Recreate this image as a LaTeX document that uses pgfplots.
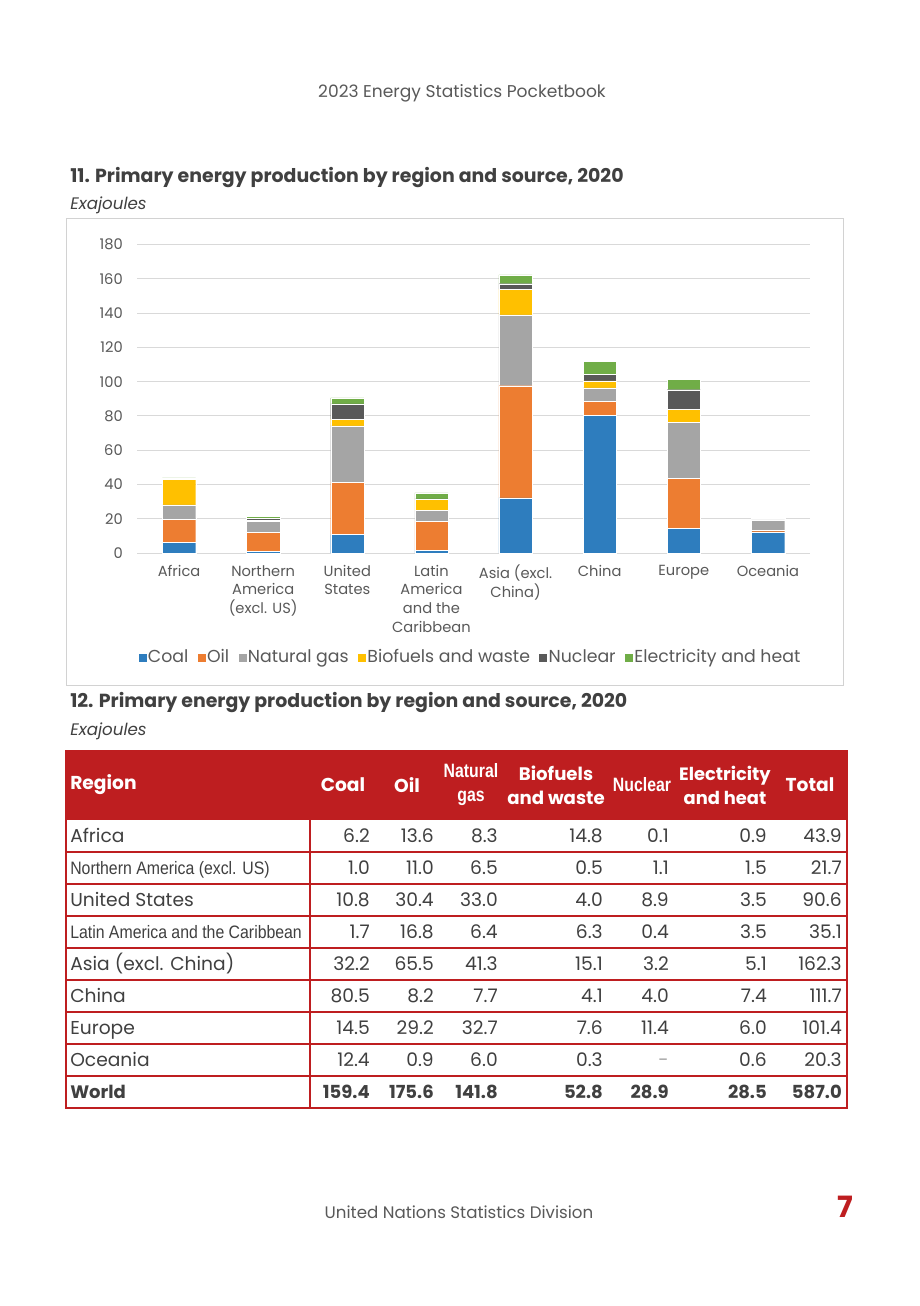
\documentclass[border=0pt]{standalone}
\usepackage{fontspec}
\setmainfont{Poppins}
\newfontfamily\narrow[FakeStretch=0.88]{Liberation Sans}
\newfontfamily\narrowhead[FakeStretch=0.82]{Liberation Sans}
\usepackage{pgfplots}
\usepackage{pgfplotstable}
\pgfplotsset{compat=1.18}

\definecolor{coal}{RGB}{46,125,190}
\definecolor{oil}{RGB}{237,125,49}
\definecolor{gas}{RGB}{165,165,165}
\definecolor{bio}{RGB}{255,192,0}
\definecolor{nuc}{RGB}{89,89,89}
\definecolor{elec}{RGB}{112,173,71}
\definecolor{unred}{RGB}{190,30,32}
\definecolor{txt}{RGB}{89,89,89}
\definecolor{dark}{RGB}{64,64,64}
\definecolor{gridc}{RGB}{217,217,217}
\definecolor{boxc}{RGB}{210,210,210}

% exajoules, 2020
\pgfplotstableread{
x coal oil gas bio nuc elec
0 6.2  13.6 8.3  14.8 0.1  0.9
1 1.0  11.0 6.5  0.5  1.1  1.5
2 10.8 30.4 33.0 4.0  8.9  3.5
3 1.7  16.8 6.4  6.3  0.4  3.5
4 32.2 65.5 41.3 15.1 3.2  5.1
5 80.5 8.2  7.7  4.1  4.0  7.4
6 14.5 29.2 32.7 7.6  11.4 6.0
7 12.4 0.9  6.0  0.3  0.0  0.6
}\prod

\begin{document}
\begin{tikzpicture}[x=0.75pt,y=-0.75pt]
\fill[white] (0,0) rectangle (920,1306);
\path[use as bounding box] (0,0) rectangle (920,1306);

% page header
\node[text=txt, font=\fontsize{12.8}{15}\selectfont] at (462,93) {2023 Energy Statistics Pocketbook};

% chart title
\node[anchor=base west, inner sep=0pt, text=dark, font=\fontsize{14.2}{17}\bfseries] at (70,182) {11. Primary energy production by region and source, 2020};
\node[anchor=base west, inner sep=0pt, text=dark, font=\fontsize{12.5}{15}\itshape] at (70,209) {Exajoules};
\draw[boxc, line width=0.75pt] (66,218) rectangle (843,685);

\begin{axis}[
  at={(102.75pt,-414.75pt)}, anchor=south west,
  scale only axis, width=504.75pt, height=231.2pt,
  ybar stacked, bar width=25pt,
  legend image code/.code={\fill[#1,draw=none] (0pt,-3.5pt) rectangle (6pt,2.5pt);},
  xmin=-0.5, xmax=7.5, ymin=0, ymax=180,
  xtick={0,...,7},
  xticklabels={Africa, {Northern\\America\\(excl. US)}, {United\\States}, {Latin\\America\\and the\\Caribbean}, {Asia (excl.\\China)}, China, Europe, Oceania},
  ytick={0,20,...,180},
  ymajorgrids, grid style={gridc, line width=0.75pt},
  axis line style={draw=none}, major tick length=0pt,
  tick label style={text=txt, inner sep=0pt},
  yticklabel style={anchor=east, xshift=-10.5pt, font=\fontsize{11}{13}\selectfont},
  xticklabel style={anchor=north, yshift=-9pt, align=center, font=\fontsize{11}{13.9}\selectfont},
  /pgf/number format/assume math mode=true,
  clip=false,
  legend columns=6, legend cell align=left,
  legend style={at={(0.495,-0.337)}, anchor=center, draw=none, fill=none,
    font=\fontsize{13}{15}\selectfont, text=txt,
    nodes={inner sep=1pt},
    /tikz/every even column/.append style={column sep=6pt}},
]
\addplot[fill=coal, draw=white, line width=0.15pt] table[x=x, y=coal] {\prod};
\addplot[fill=oil, draw=white, line width=0.15pt] table[x=x, y=oil] {\prod};
\addplot[fill=gas, draw=white, line width=0.15pt] table[x=x, y=gas] {\prod};
\addplot[fill=bio, draw=white, line width=0.15pt] table[x=x, y=bio] {\prod};
\addplot[fill=nuc, draw=white, line width=0.15pt] table[x=x, y=nuc] {\prod};
\addplot[fill=elec, draw=white, line width=0.15pt] table[x=x, y=elec] {\prod};
\legend{Coal, Oil, Natural gas, Biofuels and waste, Nuclear, Electricity and heat}
\end{axis}

% table title
\node[anchor=base west, inner sep=0pt, text=dark, font=\fontsize{14.2}{17}\bfseries] at (70,707) {12. Primary energy production by region and source, 2020};
\node[anchor=base west, inner sep=0pt, text=dark, font=\fontsize{12.5}{15}\itshape] at (70,735) {Exajoules};

% table
\fill[unred] (66,751) rectangle (847,820);
\foreach \yy in {852,884,...,1076} \draw[unred, line width=1.5pt] (66,\yy) -- (847,\yy);
\draw[unred, line width=1.5pt] (310,820) -- (310,1108);
\draw[unred, line width=1.5pt] (66,751) rectangle (847,1108);

\begin{scope}[every node/.style={text=white, inner sep=0pt, align=center, font=\fontsize{14}{18}\bfseries}]
\node[anchor=west] at (70,785) {Region};
\node at (343,785) {Coal};
\node at (407,785) {Oil};
\node[font=\fontsize{14.5}{18}\narrowhead\bfseries] at (471,785) {Natural\\gas};
\node[font=\fontsize{13.6}{18}\bfseries] at (556,785) {Biofuels\\and waste};
\node[font=\fontsize{14.5}{18}\narrowhead\bfseries] at (642,785) {Nuclear};
\node[font=\fontsize{13.4}{18}\bfseries] at (725,785) {Electricity\\and heat};
\node at (810,785) {Total};
\end{scope}

\begin{scope}[every node/.style={text=dark, inner sep=0pt, anchor=base east, font=\fontsize{14}{16}\selectfont}]
\foreach \yy/\nm/\a/\b/\c/\d/\e/\f/\g in {
  836/Africa/6.2/13.6/8.3/14.8/0.1/0.9/43.9,
  868/{\narrow\fontsize{13.5}{16}\selectfont Northern America (excl. US)}/1.0/11.0/6.5/0.5/1.1/1.5/21.7,
  900/United States/10.8/30.4/33.0/4.0/8.9/3.5/90.6,
  932/{\narrow\fontsize{13.5}{16}\selectfont Latin America and the Caribbean}/1.7/16.8/6.4/6.3/0.4/3.5/35.1,
  964/Asia (excl. China)/32.2/65.5/41.3/15.1/3.2/5.1/162.3,
  996/China/80.5/8.2/7.7/4.1/4.0/7.4/111.7,
  1028/Europe/14.5/29.2/32.7/7.6/11.4/6.0/101.4,
  1060/Oceania/12.4/0.9/6.0/0.3/{\textcolor{gas}{-}}/0.6/20.3}{
  \node[anchor=base west] at (70,\yy+6) {\nm};
  \node at (370,\yy+6) {\a};
  \node at (434,\yy+6) {\b};
  \node at (498,\yy+6) {\c};
  \node at (603,\yy+6) {\d};
  \node at (669,\yy+6) {\e};
  \node at (767,\yy+6) {\f};
  \node at (842,\yy+6) {\g};
}
\begin{scope}[every node/.append style={font=\fontsize{13.5}{16}\bfseries}]
  \node[anchor=base west] at (70,1098) {World};
  \node at (370,1098) {159.4};
  \node at (434,1098) {175.6};
  \node at (498,1098) {141.8};
  \node at (603,1098) {52.8};
  \node at (669,1098) {28.9};
  \node at (767,1098) {28.5};
  \node at (842,1098) {587.0};
\end{scope}
\end{scope}

% footer
\node[text=txt, font=\fontsize{12.5}{15}\selectfont] at (459,1212) {United Nations Statistics Division};
\node[text=unred, font=\fontsize{22}{26}\bfseries] at (845,1207) {7};
\end{tikzpicture}
\end{document}
